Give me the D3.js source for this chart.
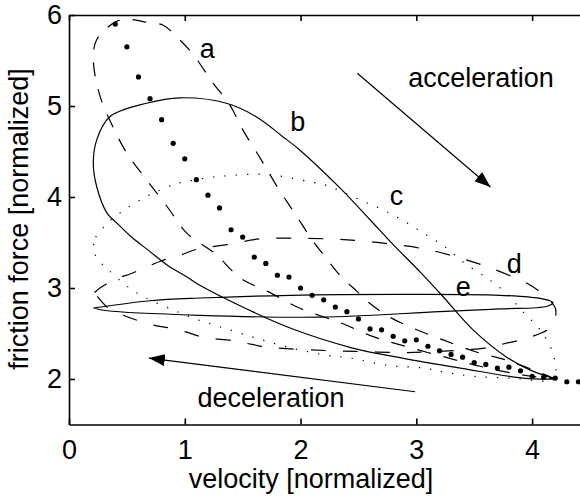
<!DOCTYPE html>
<html>
<head>
<meta charset="utf-8">
<script src="https://cdn.jsdelivr.net/npm/d3@7"></script>
<style>
  body { margin: 0; background: #fff; }
  text { font-family: "Liberation Sans", Arial, sans-serif; }
</style>
</head>
<body>
<div id="chart"></div>
<script>
// loops, [velocity, force]
const curveA = [[4.20,2.00],[4.01,2.10],[3.77,2.21],[3.51,2.30],[3.23,2.43],[2.97,2.56],[2.77,2.68],[2.58,2.85],[2.49,2.96],[2.34,3.14],[2.19,3.38],[2.11,3.51],[1.95,3.82],[1.80,4.11],[1.65,4.43],[1.50,4.74],[1.39,5.01],[1.24,5.26],[1.07,5.57],[0.93,5.76],[0.81,5.89],[0.67,5.92],[0.53,5.95],[0.41,5.93],[0.24,5.73],[0.21,5.51],[0.27,5.10],[0.38,4.77],[0.50,4.48],[0.67,4.19],[0.85,3.89],[1.02,3.60],[1.26,3.38],[1.48,3.11],[1.72,2.96],[1.99,2.78],[2.34,2.62],[2.64,2.46],[2.93,2.35],[3.25,2.24],[3.55,2.14],[3.89,2.05],[4.20,2.00]];

const curveB = [[4.20,2.00],[3.98,2.10],[3.78,2.24],[3.49,2.54],[3.22,2.92],[3.03,3.18],[2.79,3.49],[2.60,3.75],[2.34,4.10],[1.99,4.52],[1.85,4.66],[1.62,4.88],[1.36,5.03],[0.96,5.09],[0.67,5.03],[0.35,4.88],[0.24,4.63],[0.21,4.37],[0.24,4.11],[0.33,3.82],[0.40,3.73],[0.54,3.56],[0.70,3.40],[0.85,3.25],[1.02,3.12],[1.13,3.03],[1.42,2.84],[1.91,2.56],[2.45,2.34],[2.88,2.23],[3.38,2.12],[3.92,2.01],[4.20,2.00]];

const curveC = [[0.23,3.56],[0.30,3.67],[0.38,3.77],[0.47,3.85],[0.55,3.92],[0.66,4.00],[0.74,4.05],[0.85,4.11],[0.94,4.15],[1.26,4.22],[1.69,4.25],[1.91,4.21],[2.11,4.16],[2.22,4.13],[2.51,3.97],[2.71,3.86],[2.90,3.73],[3.09,3.58],[3.26,3.44],[3.42,3.27],[3.61,3.11],[3.77,2.95],[3.92,2.74],[4.07,2.54],[4.17,2.32],[4.20,2.15],[4.20,2.00],[3.81,2.01],[3.49,2.03],[3.27,2.07],[3.06,2.12],[2.75,2.15],[2.43,2.23],[2.23,2.26],[1.89,2.35],[1.59,2.46],[1.29,2.58],[1.07,2.67],[0.88,2.77],[0.68,2.88],[0.50,3.02],[0.34,3.20],[0.26,3.30],[0.21,3.42],[0.23,3.56]];

const curveD = [[0.22,2.95],[0.28,3.01],[0.41,3.10],[0.54,3.16],[0.67,3.23],[0.80,3.30],[0.94,3.35],[1.09,3.42],[1.22,3.45],[1.43,3.49],[1.65,3.54],[2.23,3.54],[2.51,3.52],[2.80,3.48],[3.07,3.43],[3.35,3.34],[3.62,3.23],[3.89,3.09],[4.00,3.02],[4.13,2.89],[4.20,2.78],[4.20,2.68],[4.13,2.54],[3.98,2.46],[3.87,2.42],[3.70,2.37],[3.59,2.34],[3.14,2.30],[2.86,2.29],[2.57,2.30],[2.28,2.31],[1.71,2.35],[1.58,2.38],[1.42,2.42],[1.16,2.46],[1.00,2.52],[0.87,2.56],[0.74,2.59],[0.60,2.64],[0.47,2.70],[0.33,2.79],[0.22,2.95]];

const curveE = [[0.21,2.78],[0.70,2.86],[1.13,2.89],[1.91,2.92],[2.86,2.93],[3.72,2.92],[4.09,2.88],[4.18,2.84],[4.13,2.80],[3.72,2.77],[3.20,2.74],[2.17,2.68],[1.13,2.70],[0.33,2.75],[0.21,2.78]];

// steady state points (big dots)
const dotV = [0.4,0.5,0.6,0.7,0.8,0.9,1.0,1.1,1.2,1.3,1.4,1.5,1.6,1.7,1.8,1.9,2.0,2.1,2.2,2.3,2.4,2.5,2.6,2.7,2.8,2.9,3.0,3.1,3.2,3.3,3.4,3.5,3.6,3.7,3.8,3.9,4.0,4.1,4.2,4.3,4.4];
const dotF = [5.90,5.65,5.32,5.08,4.85,4.59,4.42,4.19,4.02,3.88,3.64,3.56,3.34,3.27,3.14,3.12,3.00,2.92,2.87,2.79,2.74,2.66,2.55,2.54,2.47,2.42,2.43,2.36,2.31,2.27,2.24,2.18,2.16,2.12,2.13,2.09,2.03,2.02,2.01,1.97,1.97];

const xTicks = [0, 1, 2, 3, 4];
const yTicks = [2, 3, 4, 5, 6];

const labels = [
  {t: "a", v: 1.13, f: 5.53},
  {t: "b", v: 1.91, f: 4.72},
  {t: "c", v: 2.77, f: 3.91},
  {t: "d", v: 3.78, f: 3.16},
  {t: "e", v: 3.34, f: 2.91},
  {t: "acceleration", v: 2.93, f: 5.21},
  {t: "deceleration", v: 1.11, f: 1.69}
];
const arrows = [
  [[2.49, 5.36], [3.64, 4.11]],
  [[2.99, 1.86], [0.69, 2.23]]
];

const W = 580, H = 500;
const svg = d3.select("#chart").append("svg")
  .attr("width", W).attr("height", H);

const x = d3.scaleLinear().domain([0, 4.5]).range([69, 590]);
const y = d3.scaleLinear().domain([1.5, 6]).range([424.5, 15]);

svg.append("defs").append("marker")
  .attr("id", "head")
  .attr("markerUnits", "userSpaceOnUse")
  .attr("viewBox", "0 0 16 12")
  .attr("refX", 16).attr("refY", 6)
  .attr("markerWidth", 16).attr("markerHeight", 12)
  .attr("orient", "auto")
  .append("path").attr("d", "M0,0 L16,6 L0,12 Z").attr("fill", "#000");

// axes, ticks inward
const fontSize = "27px";
const fmt = d3.format("d");
const gx = svg.append("g").attr("transform", `translate(0,${y(1.5)})`)
  .call(d3.axisBottom(x).tickValues(xTicks).tickFormat(fmt).tickSizeInner(-6).tickSizeOuter(0).tickPadding(15));
const gy = svg.append("g").attr("transform", `translate(${x(0)},0)`)
  .call(d3.axisLeft(y).tickValues(yTicks).tickFormat(fmt).tickSizeInner(-6).tickSizeOuter(0).tickPadding(7));
const gt = svg.append("g").attr("transform", `translate(0,${y(6)})`)
  .call(d3.axisTop(x).tickValues(xTicks).tickSizeInner(-6).tickSizeOuter(0).tickFormat(""));

[gx, gy, gt].forEach(g => {
  g.selectAll("path, line").attr("stroke", "#000").attr("stroke-width", 1.6);
  g.selectAll("text").attr("fill", "#000").style("font-size", fontSize)
    .style("font-family", '"Liberation Sans", Arial, sans-serif');
});

const line = d3.line().x(d => x(d[0])).y(d => y(d[1])).curve(d3.curveCatmullRom.alpha(0.5));

const curves = [
  {d: curveA, dash: "14,13"},
  {d: curveB, dash: null},
  {d: curveC, dash: "1.3,10"},
  {d: curveD, dash: "15,17"},
  {d: curveE, dash: null}
];
curves.forEach(c => {
  svg.append("path")
    .attr("d", line(c.d))
    .attr("fill", "none")
    .attr("stroke", "#000")
    .attr("stroke-width", 1.2)
    .attr("stroke-dasharray", c.dash);
});

svg.selectAll("circle.dot")
  .data(dotV.map((v, i) => [v, dotF[i]]))
  .enter().append("circle")
  .attr("class", "dot")
  .attr("cx", d => x(d[0]))
  .attr("cy", d => y(d[1]))
  .attr("r", 2.6)
  .attr("fill", "#000");

arrows.forEach(a => {
  svg.append("line")
    .attr("x1", x(a[0][0])).attr("y1", y(a[0][1]))
    .attr("x2", x(a[1][0])).attr("y2", y(a[1][1]))
    .attr("stroke", "#000").attr("stroke-width", 1.2)
    .attr("marker-end", "url(#head)");
});

svg.selectAll("text.lbl")
  .data(labels)
  .enter().append("text")
  .attr("class", "lbl")
  .attr("x", d => x(d.v))
  .attr("y", d => y(d.f))
  .style("font-size", fontSize)
  .text(d => d.t);

svg.append("text")
  .attr("x", 311).attr("y", 488)
  .attr("text-anchor", "middle")
  .style("font-size", fontSize)
  .text("velocity [normalized]");

svg.append("text")
  .attr("transform", "translate(28,219) rotate(-90)")
  .attr("text-anchor", "middle")
  .style("font-size", fontSize)
  .text("friction force [normalized]");
</script>
</body>
</html>
